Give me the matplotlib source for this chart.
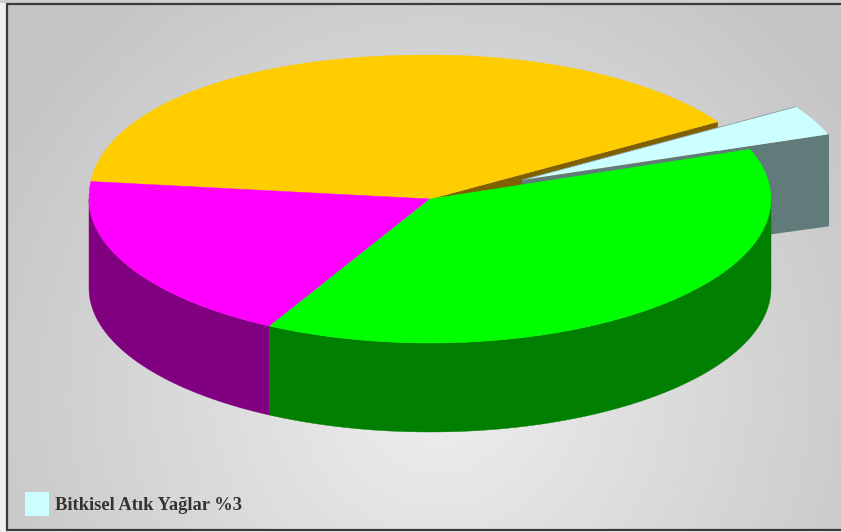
import numpy as np
import matplotlib
matplotlib.use("Agg")
import matplotlib.pyplot as plt
from matplotlib.patches import Rectangle

# Data (percent shares, counter-clockwise from the cyan slice)
categories = ["Bitkisel Atık Yağlar", "Sarı", "Pembe", "Yeşil"]
values = [3.4, 39.3, 18.9, 38.4]
legend_label = "Bitkisel Atık Yağlar %3"

top_colors = ["#CCFFFF", "#FFCC00", "#FF00FF", "#00FF00"]
side_colors = ["#617A7A", "#806000", "#800080", "#007F00"]

START = 20.2
CX, CY, RX, RY, DEPTH = 430, 199, 341, 144, 89
EXPLODE = (78, -15)
APEX_SHIFT = (92, -19)

W, H = 841, 532
fig = plt.figure(figsize=(W / 100, H / 100), dpi=100)
ax = fig.add_axes([0, 0, 1, 1])
ax.axis("off")

# background
yy, xx = np.mgrid[0:H, 0:W]
d = np.sqrt(((xx - 435) / 560) ** 2 + ((yy - 390) / 560) ** 2)
bg = np.clip(238 - 46 * d, 197, 240) / 255
ax.imshow(bg, cmap="gray", vmin=0, vmax=1, extent=(7, W, 530, 3), aspect="auto", zorder=0)
ax.set_xlim(0, W)
ax.set_ylim(H, 0)
ax.add_patch(Rectangle((0, 0), W, 3, fc="#cfcfcf", ec="none", zorder=0.5))
ax.plot([W, 7, 7, W], [4, 4, 530, 530], color="#3a3a3a", lw=1.6, zorder=1, solid_joinstyle="miter")


def pt(a, ox=0, oy=0, dz=0):
    a = np.asarray(a, dtype=float)
    r = np.radians(a)
    c, s = np.cos(r), np.sin(r)
    # the upper-left rim of the reference bulges slightly beyond a true ellipse
    upper_left = (a % 360 > 90) & (a % 360 < 180)
    p = 2 / 2.13
    c = np.where(upper_left, np.sign(c) * np.abs(c) ** p, c)
    s = np.where(upper_left, np.sign(s) * np.abs(s) ** p, s)
    return CX + ox + RX * c, CY + oy - RY * s + dz


def arc(a0, a1, ox=0, oy=0, dz=0):
    t = np.linspace(a0, a1, 160)
    return pt(t, ox, oy, dz)


edges = START + np.concatenate([[0], np.cumsum(values)]) * 3.6
(c0, c1), (y0, y1), (m0, m1), (g0, g1) = zip(edges[:-1], edges[1:])
ex, ey = EXPLODE
apx, apy = CX + APEX_SHIFT[0], CY + APEX_SHIFT[1]

# Yellow slice inner wall (only a sliver stays visible)
px, py = pt(y0)
ax.fill([CX, px, px, CX], [CY, py, py + DEPTH, CY + DEPTH], color=side_colors[1], lw=0, zorder=2)

# Exploded slice: wall and top
qx, qy = pt(c0, ex + 1, ey)
ax.fill([apx, qx, qx, apx], [apy, qy, qy + DEPTH + 3, apy + DEPTH],
        color=side_colors[0], lw=0, zorder=3)
ax_, ay_ = arc(c0, c1, ex, ey)
ax.fill(np.r_[apx, ax_], np.r_[apy, ay_], color=top_colors[0], lw=0, zorder=4)
tx, ty = pt(c1, ex, ey)
ax.plot([apx, tx], [apy, ty], color="#8a9aa0", lw=0.6, zorder=4)

# Front walls
for a0, a1, col in [(180, m1, side_colors[2]), (m1, 360, side_colors[3])]:
    x1, y1_ = arc(a0, a1)
    x2, y2_ = arc(a1, a0, dz=DEPTH)
    ax.fill(np.r_[x1, x2], np.r_[y1_, y2_], color=col, lw=0.3, zorder=5)

# Top faces
for a0, a1, col in [(y0, y1, top_colors[1]), (m0, m1, top_colors[2]), (g0, g1, top_colors[3])]:
    x1, y1_ = arc(a0, a1)
    ax.fill(np.r_[CX, x1], np.r_[CY, y1_], color=col, lw=0.3, ec=col, zorder=6)

# Legend
ax.add_patch(Rectangle((25, 492), 24, 24, fc=top_colors[0], ec="none", zorder=7))
ax.text(55, 505, legend_label, family="Liberation Serif", weight="bold", fontsize=13.3,
        color="#333333", va="center", ha="left", zorder=7)

fig.savefig("out.png", dpi=100, facecolor="#f0f0f0")
